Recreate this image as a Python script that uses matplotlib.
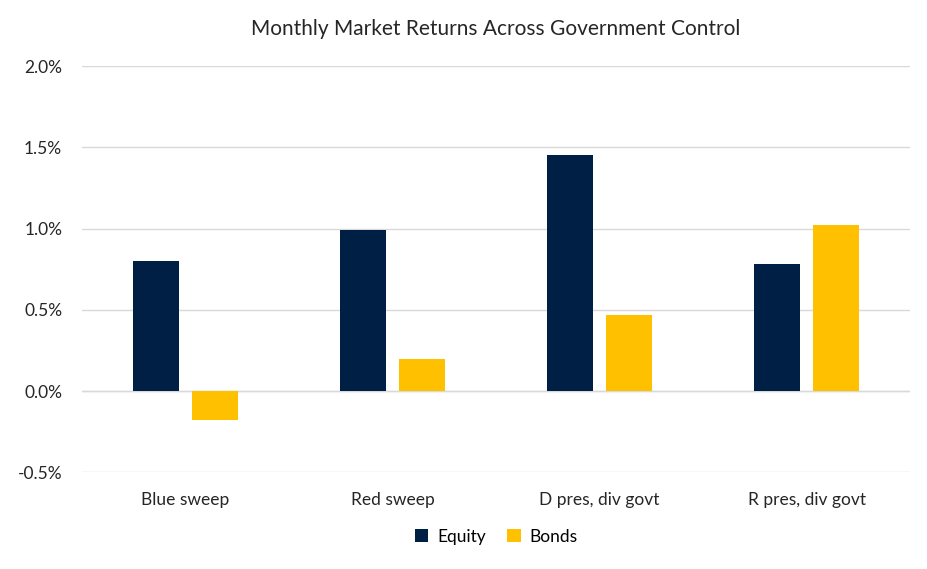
import matplotlib
matplotlib.use("Agg")
import matplotlib.pyplot as plt
import numpy as np
from matplotlib.ticker import FuncFormatter

plt.rcParams['font.family'] = ['Lato', 'DejaVu Sans']

categories = ["Blue sweep", "Red sweep", "D pres, div govt", "R pres, div govt"]
equity = [0.80, 0.99, 1.45, 0.78]
bonds = [-0.18, 0.20, 0.47, 1.02]

fig = plt.figure(figsize=(9.28, 5.69), dpi=100)
ax = fig.add_axes([0.088, 0.170, 0.893, 0.714])

x = np.arange(len(categories))
w = 0.222
off = 0.1425
ax.bar(x - off, equity, w, color="#001F45", label="Equity", zorder=3)
ax.bar(x + off, bonds, w, color="#FFC000", label="Bonds", zorder=3)

ax.set_xlim(-0.5, len(categories) - 0.5)
ax.set_ylim(-0.5, 2.0)
ax.set_yticks(np.arange(-0.5, 2.01, 0.5))
ax.yaxis.set_major_formatter(FuncFormatter(lambda v, p: f"{v:.1f}%"))
ax.grid(axis="y", color="#d9d9d9", linewidth=1, zorder=0)
ax.axhline(0, color="#d9d9d9", linewidth=1, zorder=1)
for s in ax.spines.values():
    s.set_visible(False)
ax.tick_params(length=0, labelsize=12.5, colors="#262626")
ax.tick_params(axis="y", pad=14)
ax.tick_params(axis="x", pad=14)
ax.set_xticks(x)
ax.set_xticklabels(categories)

ax.set_title("Monthly Market Returns Across Government Control", fontsize=15, color="#262626", pad=22)
ax.legend(loc="upper center", bbox_to_anchor=(0.5, -0.1), ncol=2, frameon=False,
          fontsize=12.5, handlelength=0.8, handleheight=0.8, columnspacing=1.2, handletextpad=0.5)

fig.savefig("out.png", dpi=100)
